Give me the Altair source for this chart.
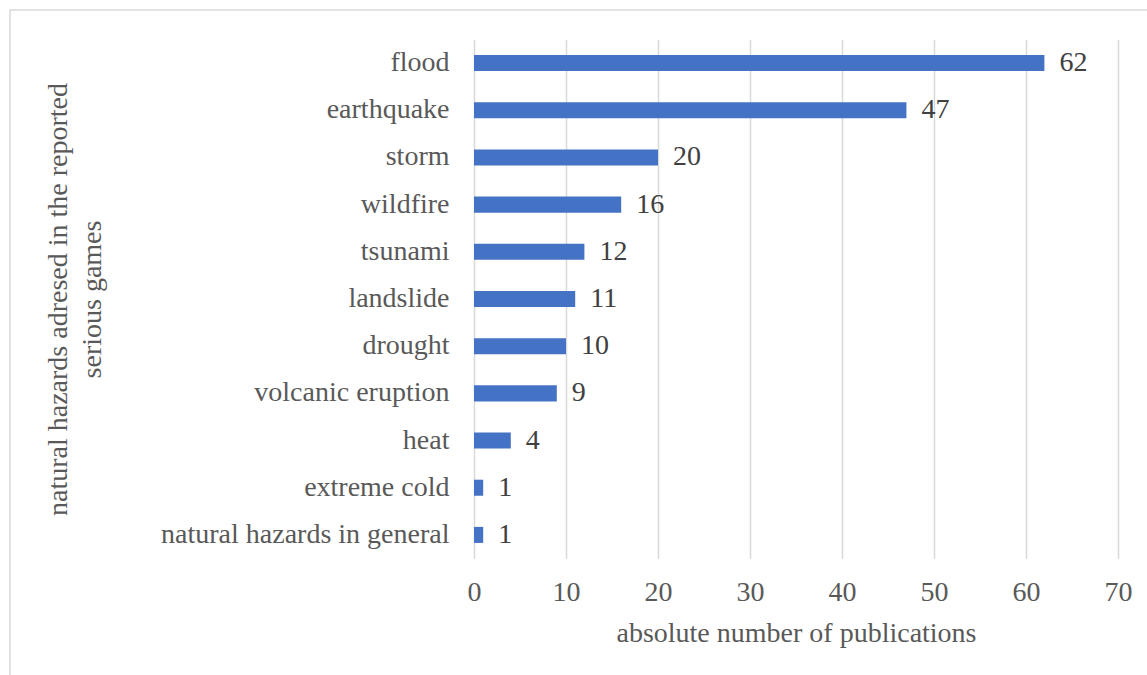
import altair as alt
import pandas as pd

categories = ["flood", "earthquake", "storm", "wildfire", "tsunami", "landslide",
              "drought", "volcanic eruption", "heat", "extreme cold",
              "natural hazards in general"]
counts = [62, 47, 20, 16, 12, 11, 10, 9, 4, 1, 1]
x_ticks = [0, 10, 20, 30, 40, 50, 60, 70]

df = pd.DataFrame({"hazard": categories, "count": counts})

FONT = "'Liberation Serif', 'Times New Roman', 'DejaVu Serif', serif"
FS = 28
W, H = 644, 519
PL, PT = 474, 39.5

y_enc = alt.Y("hazard:N", sort=categories,
              scale=alt.Scale(paddingInner=0.66, paddingOuter=0.33),
              axis=alt.Axis(title=["natural hazards adresed in the reported", "serious games"],
                            domain=False, ticks=False, labelPadding=25, labelLimit=500,
                            labelFont=FONT, labelFontSize=FS, labelColor="#595959",
                            titleFont=FONT, titleFontSize=FS, titleColor="#595959",
                            titleFontWeight="normal", titleLineHeight=34,
                            titleX=-416, titleY=H / 2, titleAngle=-90,
                            titleAlign="center", titleBaseline="middle"))

x_enc = alt.X("count:Q", scale=alt.Scale(domain=[0, 70], nice=False),
              axis=alt.Axis(values=x_ticks, title="absolute number of publications",
                            domain=False, ticks=False, grid=True, gridColor="#d9d9d9",
                            gridWidth=1.5, labelPadding=20, labelFlush=False,
                            labelFont=FONT, labelFontSize=FS, labelColor="#595959",
                            titleFont=FONT, titleFontSize=FS, titleColor="#595959",
                            titleFontWeight="normal", titlePadding=13))

bars = alt.Chart(df).mark_bar(color="#4472C4").encode(x=x_enc, y=y_enc)

labels = alt.Chart(df).mark_text(align="left", baseline="middle", dx=15,
                                 font=FONT, fontSize=FS, color="#404040").encode(
    x=alt.X("count:Q"), y=alt.Y("hazard:N", sort=categories), text="count:Q")

frame = alt.Chart(pd.DataFrame({"a": [0]})).mark_rect(
    fill=None, stroke="#d9d9d9", strokeWidth=1.5).encode(
    x=alt.value(10 - PL), x2=alt.value(1147 - PL + 20),
    y=alt.value(10 - PT), y2=alt.value(675 - PT + 20))

chart = alt.layer(frame, bars, labels).properties(
    width=W, height=H,
    autosize=alt.AutoSizeParams(type="none"),
    padding={"left": PL, "top": PT, "right": 1147 - PL - W, "bottom": 675 - PT - H},
    background="white",
).configure_view(stroke=None)

chart.save("out.html", embed_options={"renderer": "svg", "actions": False})
